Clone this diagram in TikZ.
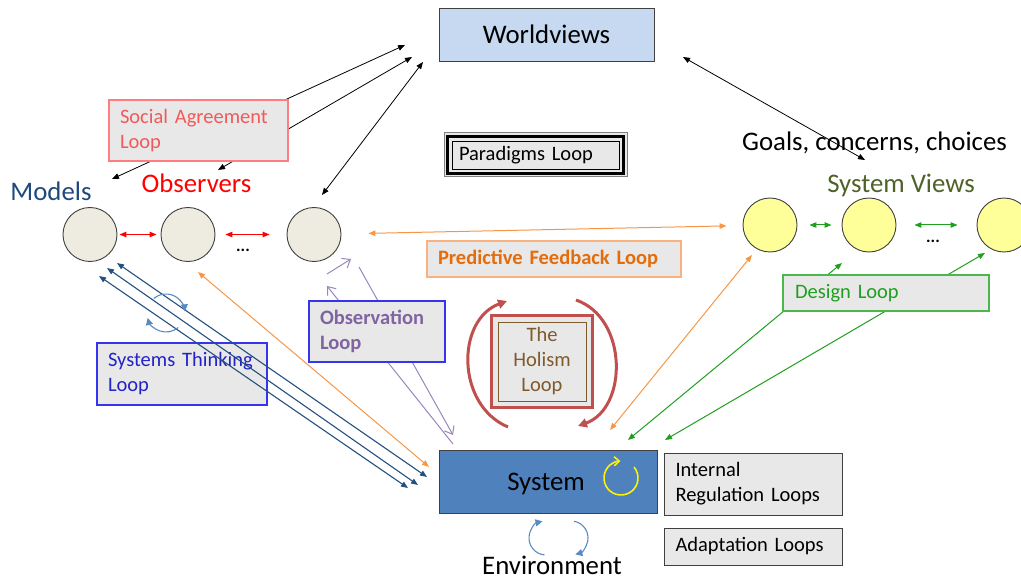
\documentclass[tikz,border=0pt]{standalone}
\usepackage{fontspec}
\setmainfont{Carlito}
\usetikzlibrary{arrows.meta}

\definecolor{boxgray}{HTML}{E8E8E8}
\definecolor{edgegray}{HTML}{404040}
\definecolor{wvblue}{HTML}{C6D9F1}
\definecolor{sysblue}{HTML}{4F81BD}
\definecolor{obsfill}{HTML}{EEECE1}
\definecolor{viewfill}{HTML}{FFFF99}
\definecolor{modelblue}{HTML}{1F497D}
\definecolor{olive}{HTML}{4F6228}
\definecolor{salmon}{HTML}{FF7C80}
\definecolor{salmontext}{HTML}{F05A5A}
\definecolor{orangeline}{HTML}{F79646}
\definecolor{orangeedge}{HTML}{F9B27E}
\definecolor{orangetext}{HTML}{E46C0A}
\definecolor{stblue}{HTML}{3535F0}
\definecolor{sttext}{HTML}{2323C8}
\definecolor{purpletext}{HTML}{8064A2}
\definecolor{purpleline}{HTML}{9A86BE}
\definecolor{tripleblue}{HTML}{24507F}
\definecolor{cycleblue}{HTML}{5A8AC6}
\definecolor{greenline}{HTML}{1EA01E}
\definecolor{greenedge}{HTML}{4CB84C}
\definecolor{holismred}{HTML}{C0504D}
\definecolor{holismtext}{HTML}{7F5A2A}

\newcommand\lblbig{\fontsize{26.8}{31}\selectfont}
\newcommand\lblsmall{\fontsize{20.5}{25}\selectfont}

\tikzset{
  tri/.tip={Triangle[length=7pt,width=5.5pt]},
  dbl/.style={tri-tri},
  blackarr/.style={dbl, line width=0.8pt, black},
  redarr/.style={dbl, line width=1.1pt, red},
  greenarr/.style={dbl, line width=1pt, greenline},
  orangearr/.style={dbl, line width=1pt, orangeline},
  bluearr/.style={dbl, line width=1.1pt, tripleblue},
  purplearr/.style={-{Straight Barb[length=7pt,width=11pt]}, line width=1pt, purpleline},
  cyclearr/.style={-{Triangle[length=7pt,width=7pt]}, line width=1.1pt, cycleblue},
  obscirc/.style={circle, draw=edgegray, fill=obsfill, line width=0.9pt, minimum size=54pt, inner sep=0pt},
  viewcirc/.style={circle, draw=edgegray, fill=viewfill, line width=0.9pt, minimum size=54pt, inner sep=0pt},
  label big/.style={anchor=base, inner sep=0pt, font=\lblbig},
  loopbox/.style={rectangle, fill=boxgray, line width=1.2pt, inner xsep=11pt, inner ysep=0pt,
                  align=left, font=\lblsmall},
  dots/.style={inner sep=0pt, font=\fontsize{17}{17}\selectfont\bfseries},
}

\begin{document}
\begin{tikzpicture}[x=1pt,y=1pt]
\useasboundingbox (0,0) rectangle (1021,-580);

% ---------- main nodes ----------
\node[rectangle, draw=edgegray, fill=wvblue, line width=1pt, minimum width=215pt, minimum height=53pt,
      inner sep=0pt] (world) at (546.5,-35.5) {};
\node[label big] (worldtxt) at (546.5,-43.5) {Worldviews};

\node[rectangle, draw=edgegray, fill=sysblue, line width=1pt, minimum width=218pt, minimum height=63pt,
      inner sep=0pt] (sys) at (548,-481.5) {};
\node[label big] (systxt) at (546,-490) {System};

% observers and models
\node[obscirc] (o1) at (90,-234.5) {};
\node[obscirc] (o2) at (188,-234.5) {};
\node[obscirc] (o3) at (314,-234.5) {};
% system views
\node[viewcirc] (s1) at (770,-225) {};
\node[viewcirc] (s2) at (869,-225) {};
\node[viewcirc] (s3) at (1004,-225) {};

% labels
\node[label big, text=modelblue] (models) at (51,-201) {Models};
\node[label big, text=red] (observers) at (196.5,-193) {Observers};
\node[label big] (goals) at (874.5,-151) {Goals, concerns, choices};
\node[label big, text=olive] (views) at (901,-193) {System Views};
\node[label big] (env) at (552,-574) {Environment};

\node[dots] (dotsobs) at (243,-250) {...};
\node[dots] (dotsview) at (933,-241) {...};

% ---------- systems thinking box (lines run over it) ----------
\node[loopbox, draw=stblue, text=sttext, minimum width=170pt, minimum height=62pt, text width=148pt]
  (stbox) at (182,-374) {Systems Thinking\\Loop};

% ---------- connectors ----------
% worldview links
\coordinate (wv1) at (405,-45);
\coordinate (wv2) at (412,-57);
\coordinate (wv3) at (423,-62);
\coordinate (wv4) at (683,-57);
\coordinate (mdtip) at (112,-179);
\coordinate (obtip) at (218,-170);
\coordinate (o3tip) at (322,-195);
\coordinate (gctip) at (865,-160);
\draw[blackarr] (wv1) -- (mdtip);
\draw[blackarr] (wv2) -- (obtip);
\draw[blackarr] (wv3) -- (o3tip);
\draw[blackarr] (wv4) -- (gctip);

% neighbour links
\draw[redarr, shorten <=2pt, shorten >=4pt] (o1) -- (o2);
\draw[redarr, shorten <=10pt, shorten >=17pt] (o2) -- (o3);
\draw[greenarr, shorten <=12pt, shorten >=10pt] (s1) -- (s2);
\draw[greenarr, shorten <=18pt, shorten >=19pt] (s2) -- (s3);

% predictive feedback
\draw[orangearr, shorten <=27pt, shorten >=16pt] (o3) -- (s1);
\coordinate (pf1a) at (198,-272);
\coordinate (pf1b) at (429,-467);
\coordinate (pf2a) at (610,-430);
\coordinate (pf2b) at (752,-255);
\draw[orangearr] (pf1a) -- (pf1b);
\draw[orangearr] (pf2a) -- (pf2b);

% systems thinking links
\coordinate (t1a) at (117,-263); \coordinate (t1b) at (427,-477);
\coordinate (t2a) at (107,-268); \coordinate (t2b) at (418,-485);
\coordinate (t3a) at (99,-276);  \coordinate (t3b) at (408,-488);
\draw[bluearr] (t1a) -- (t1b);
\draw[bluearr] (t2a) -- (t2b);
\draw[bluearr] (t3a) -- (t3b);
\coordinate (stc) at (166,-313);
\draw[cyclearr] (stc) ++(130:19) arc[start angle=130, end angle=5, radius=19];
\draw[cyclearr] (stc) ++(-50:19) arc[start angle=-50, end angle=-165, radius=19];

% observation links
\coordinate (ob1a) at (453,-444); \coordinate (ob1b) at (327,-286);
\coordinate (ob2a) at (327,-274); \coordinate (ob2b) at (351,-259);
\coordinate (ob3a) at (359,-267); \coordinate (ob3b) at (453,-435);
\draw[purplearr] (ob1a) -- (ob1b);
\draw[purplearr] (ob2a) -- (ob2b);
\draw[purplearr] (ob3a) -- (ob3b);

% design links
\coordinate (dg1a) at (628,-440); \coordinate (dg1b) at (842,-263);
\coordinate (dg2a) at (665,-440); \coordinate (dg2b) at (985,-253);
\draw[greenarr] (dg1a) -- (dg1b);
\draw[greenarr] (dg2a) -- (dg2b);

% ---------- loop boxes ----------
\node[loopbox, draw=salmon, text=salmontext, minimum width=179pt, minimum height=61pt, text width=157pt]
  (sabox) at (198.5,-130.5) {Social Agreement\\Loop};
\node[loopbox, draw=orangeedge, text=orangetext, font=\lblsmall\bfseries, minimum width=254pt,
      minimum height=36pt, text width=232pt] (pfbox) at (554,-259) {Predictive Feedback Loop};
\node[loopbox, draw=stblue, text=purpletext, font=\lblsmall\bfseries, minimum width=136pt,
      minimum height=61pt, text width=114pt] (obbox) at (377,-331.5) {Observation\\Loop};
\node[loopbox, draw=greenedge, text=greenline, minimum width=206pt, minimum height=36pt,
      text width=182pt] (dgbox) at (886,-293) {Design Loop};
\node[loopbox, draw=edgegray, text=black, line width=1pt, minimum width=178pt, minimum height=62pt,
      text width=155pt] (irbox) at (753,-484) {Internal\\Regulation Loops};
\node[loopbox, draw=edgegray, text=black, line width=1pt, minimum width=178pt, minimum height=37pt,
      text width=155pt] (adbox) at (753,-546.5) {Adaptation Loops};

% paradigms loop with its layered frame
\node[rectangle, draw=gray, fill=boxgray, line width=1pt, minimum width=183pt, minimum height=44pt,
      inner sep=0pt] (pdframe) at (535.5,-155) {};
\node[rectangle, draw=black, line width=2.4pt, minimum width=176pt, minimum height=37pt,
      inner sep=0pt] (pdmid) at (535.5,-155) {};
\node[rectangle, draw=black, line width=0.8pt, fill=boxgray, minimum width=167pt, minimum height=28pt,
      inner xsep=7pt, inner ysep=0pt, text width=153pt, align=left, font=\lblsmall]
  (pdbox) at (535.5,-155) {Paradigms Loop};

% holism loop
\node[rectangle, draw=holismred, fill=boxgray, line width=3.5pt, minimum width=101pt, minimum height=92pt,
      inner sep=0pt] (hoframe) at (542,-361.5) {};
\node[rectangle, draw=holismtext, line width=0.9pt, minimum width=88pt, minimum height=79pt, inner sep=0pt,
      align=center, text=holismtext, font=\lblsmall] (hobox) at (542,-361.5) {The\\Holism\\Loop};
\coordinate (hl1) at (508,-427); \coordinate (hl2) at (507,-301);
\coordinate (hr1) at (576,-300); \coordinate (hr2) at (578,-426);
\draw[holismred, line width=3pt, -{Triangle[length=9pt,width=9pt]}]
  (hl1) .. controls (456,-405) and (456,-320) .. (hl2);
\draw[holismred, line width=3pt, -{Triangle[length=9pt,width=9pt]}]
  (hr1) .. controls (628,-318) and (628,-408) .. (hr2);

% internal regulation cycle inside the system
\coordinate (irc) at (621,-478);
\draw[yellow, line width=1.6pt, -{Straight Barb[length=5pt,width=9pt]}]
  (irc) ++(40:17) arc[start angle=40, end angle=-268, radius=17];

% adaptation cycle with the environment
\coordinate (envl) at (546,-538);
\coordinate (envr) at (571,-538);
\draw[cyclearr] (envl) ++(-95:17) arc[start angle=-95, end angle=-258, radius=17];
\draw[cyclearr] (envr) ++(80:17) arc[start angle=80, end angle=-75, radius=17];
\end{tikzpicture}
\end{document}
